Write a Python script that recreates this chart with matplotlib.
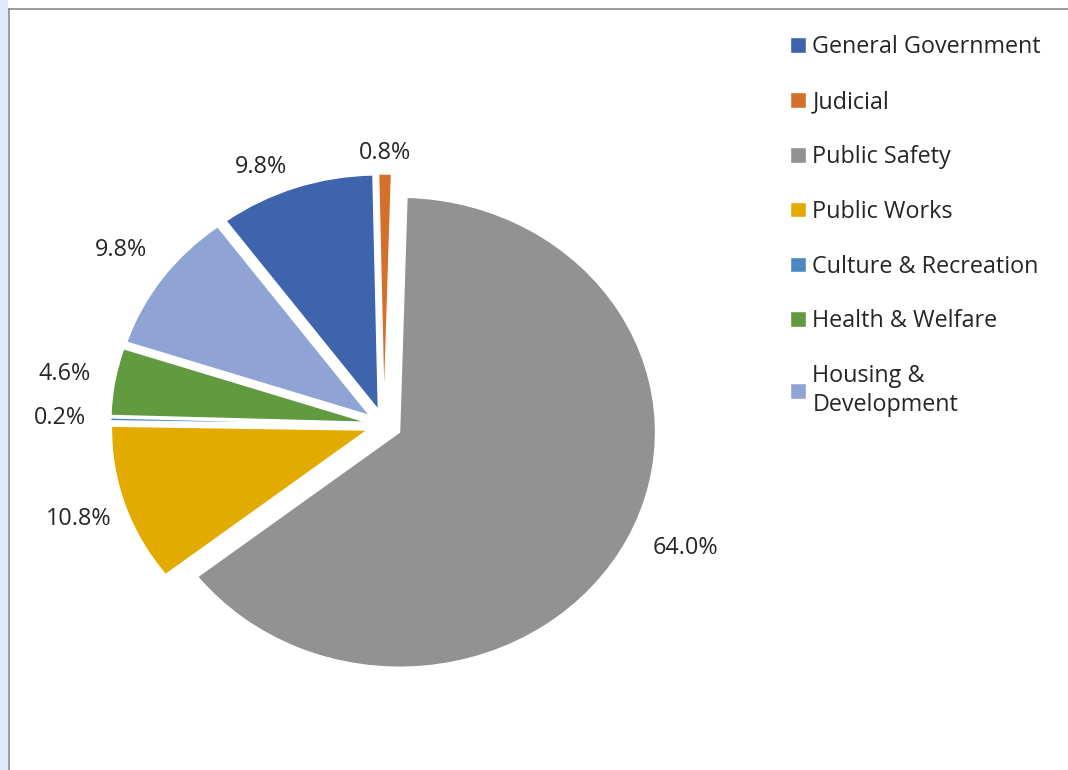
import matplotlib.pyplot as plt
import numpy as np
from matplotlib.patches import Rectangle
from matplotlib.lines import Line2D

# expenditure share by function (percent)
categories = ['General Government', 'Judicial', 'Public Safety', 'Public Works',
              'Culture & Recreation', 'Health & Welfare', 'Housing &\nDevelopment']
shares = [9.8, 0.8, 64.0, 10.8, 0.2, 4.6, 9.8]
colors = ['#3d64ad', '#d5702b', '#929292', '#e3aa00', '#4b88c2', '#629a3f', '#8fa3d4']

plt.rcParams['font.family'] = ['Open Sans', 'DejaVu Sans']

W, H = 1068, 770
fig = plt.figure(figsize=(W / 100, H / 100), dpi=100)
fig.patch.set_facecolor('white')

# window strip on the left and chart border
fig.add_artist(Rectangle((0, 0), 8 / W, 1, transform=fig.transFigure,
                         facecolor='#ddecfb', edgecolor='none'))
fig.add_artist(Line2D([8.5 / W, 8.5 / W], [0, 1 - 9 / H], transform=fig.transFigure,
                      color='#8a8a8a', lw=1.2))
fig.add_artist(Line2D([8.5 / W, 1], [1 - 9 / H, 1 - 9 / H], transform=fig.transFigure,
                      color='#8a8a8a', lw=1.2))

ax = fig.add_axes([0, 0, 1, 1])
ax.patch.set_alpha(0)

wedges, texts, autotexts = ax.pie(
    shares, colors=colors, startangle=126.5, counterclock=False,
    explode=[0.068] * len(shares), autopct='%1.1f%%', pctdistance=1.19,
    wedgeprops=dict(edgecolor='white', linewidth=1),
    textprops=dict(fontsize=16.8, color='#262626'))

# best-fit style label distances (the top labels sit closer to the pie)
label_r = [1.13, 1.09, 1.22, 1.19, 1.2, 1.2, 1.2]
label_turn = [-5, 0, -3, 0, 0, 0, 0]  # small angular nudges, degrees
for w, t, r, d in zip(wedges, autotexts, label_r, label_turn):
    mid = np.deg2rad((w.theta1 + w.theta2) / 2 - d)
    t.set_position((w.center[0] + r * np.cos(mid), w.center[1] + r * np.sin(mid)))

# pie is drawn slightly wider than tall
cx, cy = 384, 425
rx, ry = 256, 235
ax.set_aspect('auto')
ax.set_xlim(-cx / rx, (W - cx) / rx)
ax.set_ylim(-(H - cy) / ry, cy / ry)
ax.axis('off')

leg = fig.legend(wedges, categories, loc='upper left',
                 bbox_to_anchor=(781 / W, 1 - 26 / H), frameon=False,
                 fontsize=16.8, handlelength=0.65, handleheight=0.65,
                 handletextpad=0.3, labelspacing=1.32, borderaxespad=0)
for t in leg.get_texts():
    t.set_color('#262626')
    t.set_linespacing(1.25)

fig.savefig('out.png', dpi=100)
